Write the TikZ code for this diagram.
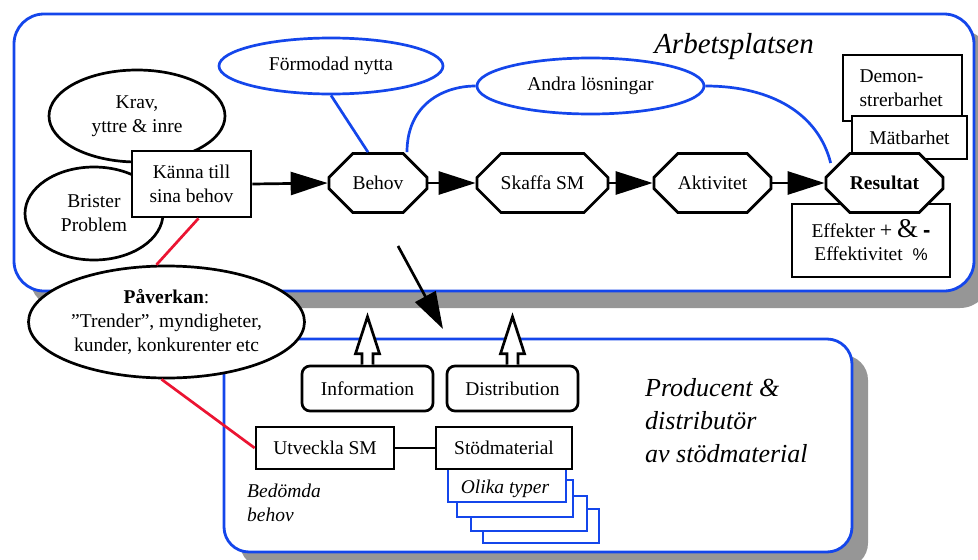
\documentclass[tikz,border=0pt]{standalone}
\usepackage{fontspec}
\setmainfont{Liberation Serif}
\newfontfamily\arialfont{Liberation Sans}
\usetikzlibrary{shapes.geometric,shapes.misc,arrows.meta,calc}
\definecolor{boxblue}{RGB}{20,70,235}
\definecolor{shadowgray}{RGB}{150,150,150}
\definecolor{linkred}{RGB}{235,20,50}
\begin{document}
\begin{tikzpicture}[x=1pt,y=-1pt,
  every node/.style={font=\fontsize{19.5}{24}\selectfont, inner sep=0pt},
  bigbox/.style={draw=boxblue, line width=2.8pt, fill=white},
  ell/.style={ellipse, draw=black, line width=2.7pt, fill=white, align=center},
  bell/.style={ellipse, draw=boxblue, line width=2.7pt, fill=white, align=center},
  rectbox/.style={rectangle, draw=black, line width=2.7pt, fill=white, align=center},
  roundbox/.style={rectbox, rounded corners=8pt},
  octa/.style={chamfered rectangle, chamfered rectangle xsep=17pt, chamfered rectangle ysep=17pt,
     draw=black, line width=2.7pt, fill=white, minimum height=59pt},
  stackbox/.style={rectangle, draw=boxblue, line width=2.7pt, fill=white},
  flow/.style={line width=2.7pt, -{Triangle[length=37pt,width=23pt]}},
  blueline/.style={draw=boxblue, line width=2.7pt},
  redline/.style={draw=linkred, line width=2.7pt},
  plainline/.style={draw=black, line width=2.7pt},
  openarr/.style={draw=black, line width=2.7pt, fill=white, line join=miter},
  title/.style={font=\itshape\fontsize{29}{33}\selectfont},
  subtitle/.style={font=\itshape\fontsize{26}{33}\selectfont, align=left},
  note/.style={font=\itshape\fontsize{19.5}{24}\selectfont, align=left}
]
\useasboundingbox (0,0) rectangle (978,560);

% big containers with shadows
\fill[shadowgray, rounded corners=30pt] (30,30) rectangle (990,308);
\draw[bigbox, rounded corners=30pt] (14,14) rectangle (974,291);
\fill[shadowgray, rounded corners=25pt] (240,355) rectangle (868,568);
\draw[bigbox, rounded corners=25pt] (224,339) rectangle (852,552);

% titles
\node[title, anchor=base] (arb) at (734,53) {Arbetsplatsen};
\node[subtitle, anchor=west] (prod) at (645,421) {Producent \&\\distributör\\av stödmaterial};

% top area ellipses
\node[ell, minimum width=176pt, minimum height=92pt] (krav) at (137,116) {Krav,\\yttre \& inre};
\node[ell, minimum width=138pt, minimum height=93pt] (brist) at (94,213.5) {Brister\\Problem};
\node[rectbox, minimum width=119pt, minimum height=66pt] (kanna) at (191.5,184) {Känna till\\sina behov};

\node[bell, minimum width=224pt, minimum height=56pt] (form) at (331,66) {Förmodad nytta};
\node[bell, minimum width=227pt, minimum height=56pt] (andra) at (590.5,86) {Andra lösningar};

% right boxes
\node[rectbox, minimum width=119pt, minimum height=66pt] (demo) at (902.5,88)
   {\parbox{86pt}{\raggedright Demon-\\strerbarhet}};
\node[rectbox, minimum width=115pt, minimum height=43pt] (mat) at (909.5,137.5) {Mätbarhet};
\node[rectbox, minimum width=158pt, minimum height=73pt] (eff) at (871,240.5)
   {Effekter {\fontsize{22}{22}\selectfont +} {\fontsize{27}{27}\selectfont\&} {\arialfont\bfseries\fontsize{22}{22}\selectfont -}\\[-1pt]Effektivitet \ {\arialfont\fontsize{17}{20}\selectfont\%}};

% octagon chain
\node[octa, minimum width=98pt] (behov) at (378,183) {Behov};
\node[octa, minimum width=131pt] (skaffa) at (542.5,183) {Skaffa SM};
\node[octa, minimum width=117pt] (akt) at (712.5,183) {Aktivitet};
\node[octa, minimum width=117pt] (res) at (884.5,183) {\textbf{Resultat}};

\draw[flow] (kanna.east) -- (behov.west);
\draw[flow] (behov.east) -- (skaffa.west);
\draw[flow] (skaffa.east) -- (akt.west);
\draw[flow] (akt.east) -- (res.west);

% blue connectors
\draw[blueline] (form.south) -- ($(behov.north)+(-10,0)$);
\draw[blueline] ($(behov.north)+(29,0)$) .. controls +(0,-48) and +(-32,0) .. (andra.west);
\draw[blueline] (andra.east) .. controls +(68,0) and +(-12,-48) .. ($(res.west)+(6,-20)$);

% big diagonal arrow
\coordinate (dstart) at (398,246);
\coordinate (dend) at (443,329);
\draw[flow] (dstart) -- (dend);

% bottom area
\node[roundbox, minimum width=131pt, minimum height=45pt] (info) at (367.5,388.5) {Information};
\node[roundbox, minimum width=131pt, minimum height=45pt] (dist) at (512.5,388.5) {Distribution};

\draw[openarr] ($(info.north)+(-5.5,0)$) -- ++(0,-11) -- ++(-6.5,0) -- ($(info.north)+(0,-48)$)
   -- ($(info.north)+(12,-11)$) -- ++(-6.5,0) -- ++(0,11);
\draw[openarr] ($(dist.north)+(-5.5,0)$) -- ++(0,-11) -- ++(-6.5,0) -- ($(dist.north)+(0,-48)$)
   -- ($(dist.north)+(12,-11)$) -- ++(-6.5,0) -- ++(0,11);

% stacked "Olika typer"
\node[stackbox, minimum width=116pt, minimum height=34pt] (s4) at (541,526) {};
\node[stackbox, minimum width=116pt, minimum height=35pt] (s3) at (529,513.5) {};
\node[stackbox, minimum width=116pt, minimum height=37pt] (s2) at (515,498.5) {};
\node[stackbox, minimum width=118pt, minimum height=44pt] (s1) at (507,480) {};
\node[note] (olika) at (505,489) {Olika typer};

\node[rectbox, minimum width=138pt, minimum height=42pt] (utv) at (325,448) {Utveckla SM};
\node[rectbox, minimum width=136pt, minimum height=42pt] (stod) at (504,448) {Stödmaterial};
\draw[plainline] (utv.east) -- (stod.west);

\node[note, anchor=west] (bed) at (247,503) {Bedömda\\behov};

% Påverkan
\node[ell, minimum width=276pt, minimum height=112pt] (pav) at (166.5,322)
   {\textbf{Påverkan}:\\”Trender”, myndigheter,\\kunder, konkurenter etc};
\draw[redline] ($(kanna.south)+(7,0)$) -- (pav.100);
\draw[redline] (pav.265) -- (utv.west);
\end{tikzpicture}
\end{document}
